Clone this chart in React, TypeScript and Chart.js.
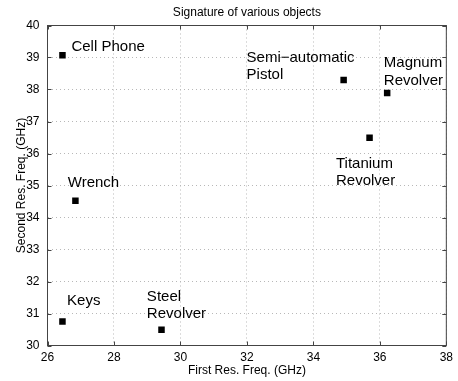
import React, { useEffect, useRef } from "react";
import { Chart, registerables } from "chart.js";

Chart.register(...registerables);

const objectNames: string[] = [
  "Cell Phone",
  "Semi-automatic Pistol",
  "Magnum Revolver",
  "Titanium Revolver",
  "Wrench",
  "Keys",
  "Steel Revolver",
];
const firstResFreq: number[] = [26.45, 34.91, 36.22, 35.69, 26.84, 26.45, 29.43];
const secondResFreq: number[] = [39.07, 38.3, 37.89, 36.49, 34.52, 30.75, 30.49];

// annotation text (lines) and anchors in data units (left edge, first-line middle)
const labelLines: string[][] = [
  ["Cell Phone"],
  ["Semi\u2212automatic", "Pistol"],
  ["Magnum", "Revolver"],
  ["Titanium", "Revolver"],
  ["Wrench"],
  ["Keys"],
  ["Steel", "Revolver"],
];
const labelX: number[] = [26.72, 31.99, 36.12, 34.68, 26.61, 26.59, 28.99];
const labelY: number[] = [39.34, 39.0, 38.82, 35.69, 35.08, 31.39, 31.53];

const xTicks: number[] = [26, 28, 30, 32, 34, 36, 38];
const yTicks: number[] = [30, 31, 32, 33, 34, 35, 36, 37, 38, 39, 40];

const titleText = "Signature of various objects";
const xTitle = "First Res. Freq. (GHz)";
const yTitle = "Second Res. Freq. (GHz)";

const FONT = "Arial, 'Liberation Sans', Helvetica, sans-serif";

const decorPlugin = {
  id: "decor",
  afterDraw(chart: any) {
    const ctx = chart.ctx as CanvasRenderingContext2D;
    const { left, right, top, bottom } = chart.chartArea;
    const xs = chart.scales.x;
    const ys = chart.scales.y;
    ctx.save();
    ctx.strokeStyle = "#444";
    ctx.lineWidth = 1;
    ctx.setLineDash([]);
    ctx.strokeRect(left, top, right - left, bottom - top);
    const tl = 4;
    ctx.beginPath();
    xTicks.forEach((v) => {
      const px = Math.round(xs.getPixelForValue(v)) + 0.5;
      ctx.moveTo(px, bottom);
      ctx.lineTo(px, bottom - tl);
      ctx.moveTo(px, top);
      ctx.lineTo(px, top + tl);
    });
    yTicks.forEach((v) => {
      const py = Math.round(ys.getPixelForValue(v)) + 0.5;
      ctx.moveTo(left, py);
      ctx.lineTo(left + tl, py);
      ctx.moveTo(right, py);
      ctx.lineTo(right - tl, py);
    });
    ctx.stroke();

    ctx.fillStyle = "#000";
    ctx.font = `15px ${FONT}`;
    ctx.textAlign = "left";
    ctx.textBaseline = "middle";
    labelLines.forEach((lines, i) => {
      const px = xs.getPixelForValue(labelX[i]);
      const py = ys.getPixelForValue(labelY[i]);
      lines.forEach((ln, j) => ctx.fillText(ln, px, py + j * 17.5));
    });

    ctx.font = `12px ${FONT}`;
    ctx.textAlign = "center";
    ctx.fillText(titleText, (left + right) / 2, 12.5);
    ctx.fillText(xTitle, (left + right) / 2, 370.5);
    ctx.translate(21.5, (top + bottom) / 2);
    ctx.rotate(-Math.PI / 2);
    ctx.fillText(yTitle, 0, 0);
    ctx.restore();
  },
};

export default function App() {
  const ref = useRef<HTMLCanvasElement>(null);
  useEffect(() => {
    if (!ref.current) return;
    const chart = new Chart(ref.current, {
      type: "scatter",
      data: {
        datasets: [
          {
            label: "objects",
            data: firstResFreq.map((x, i) => ({ x, y: secondResFreq[i] })),
            pointStyle: "rect",
            pointRadius: 4.6,
            backgroundColor: "#000",
            borderColor: "#000",
            borderWidth: 0,
          },
        ],
      },
      options: {
        responsive: false,
        animation: false,
        devicePixelRatio: 1,
        layout: { padding: { top: 25.5, right: 6.5, left: 0, bottom: 0 } },
        plugins: {
          legend: { display: false },
          tooltip: { enabled: false },
          title: { display: false },
        },
        scales: {
          x: {
            type: "linear",
            min: 26,
            max: 38,
            afterBuildTicks: (s: any) => {
              s.ticks = xTicks.map((v) => ({ value: v }));
            },
            afterFit: (s: any) => {
              s.height = 35.5;
            },
            grid: { color: "#b8b8b8", lineWidth: 1, drawTicks: false },
            border: { display: false, dash: [1, 3] },
            ticks: {
              color: "#000",
              font: { family: FONT, size: 12 },
              padding: 5,
              maxRotation: 0,
            },
          },
          y: {
            type: "linear",
            min: 30,
            max: 40,
            afterBuildTicks: (s: any) => {
              s.ticks = yTicks.map((v) => ({ value: v }));
            },
            afterFit: (s: any) => {
              s.width = 47.5;
            },
            grid: { color: "#b8b8b8", lineWidth: 1, drawTicks: false },
            border: { display: false, dash: [1, 3] },
            ticks: {
              color: "#000",
              font: { family: FONT, size: 12 },
              padding: 8,
            },
          },
        },
      },
      plugins: [decorPlugin],
    });
    return () => chart.destroy();
  }, []);
  return (
    <div style={{ position: "absolute", left: 0, top: 0, width: 458, height: 381, background: "#fff" }}>
      <canvas ref={ref} width={458} height={381} style={{ width: 458, height: 381 }} />
    </div>
  );
}
